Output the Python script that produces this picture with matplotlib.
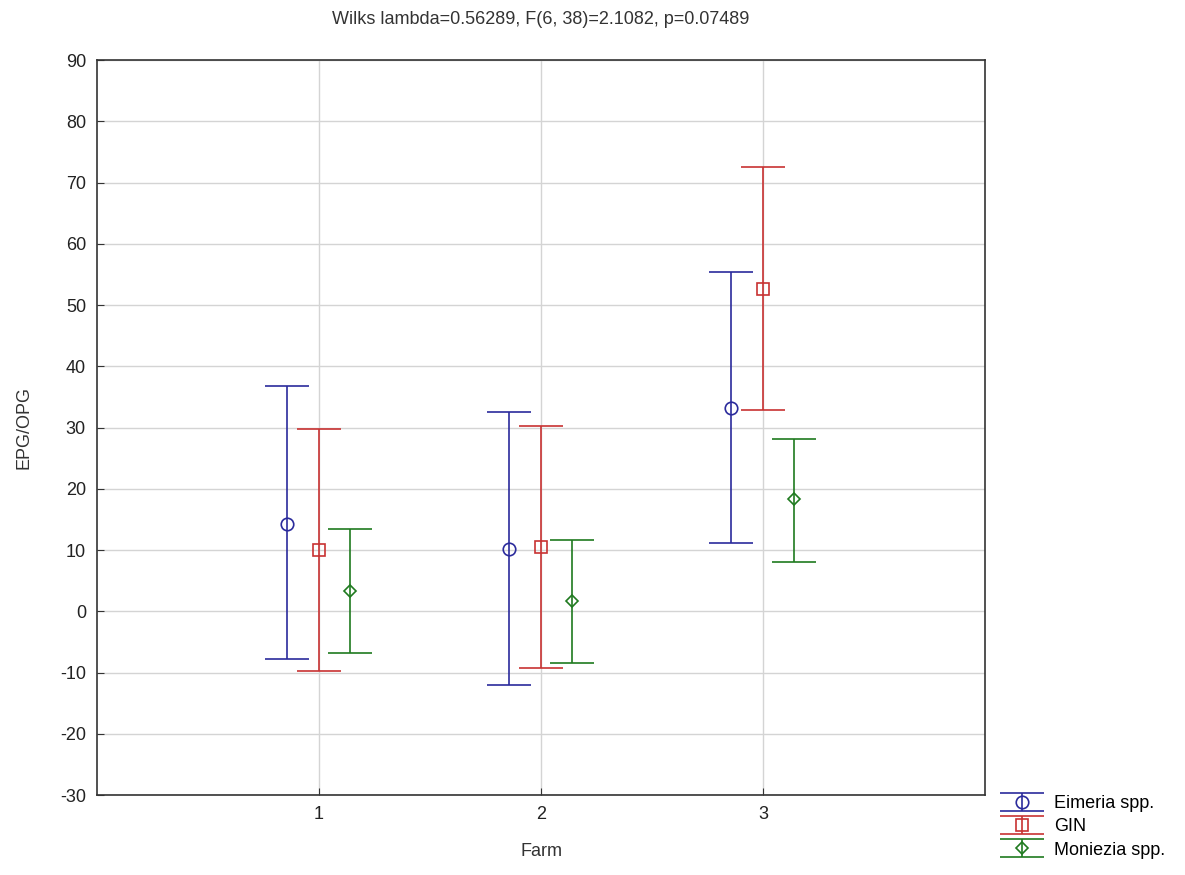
import numpy as np
import matplotlib.pyplot as plt

plt.rcParams['font.family'] = ['Liberation Sans', 'DejaVu Sans']
plt.rcParams['axes.unicode_minus'] = False

farms = [1, 2, 3]
series = ['Eimeria spp.', 'GIN', 'Moniezia spp.']
means = {
    'Eimeria spp.': [14.2, 10.2, 33.2],
    'GIN': [10.0, 10.5, 52.6],
    'Moniezia spp.': [3.3, 1.6, 18.3],
}
upper = {
    'Eimeria spp.': [36.8, 32.5, 55.4],
    'GIN': [29.8, 30.2, 72.6],
    'Moniezia spp.': [13.4, 11.6, 28.2],
}
lower = {
    'Eimeria spp.': [-7.8, -12.1, 11.1],
    'GIN': [-9.8, -9.2, 32.8],
    'Moniezia spp.': [-6.8, -8.5, 8.1],
}

colors = {'Eimeria spp.': '#2b2b9c', 'GIN': '#c83232', 'Moniezia spp.': '#1f7a1f'}
markers = {'Eimeria spp.': 'o', 'GIN': 's', 'Moniezia spp.': 'D'}
msizes = {'Eimeria spp.': 9, 'GIN': 9, 'Moniezia spp.': 6.5}
offsets = {'Eimeria spp.': -0.145, 'GIN': 0.0, 'Moniezia spp.': 0.14}

fig = plt.figure(figsize=(11.85, 8.75), dpi=100)
ax = fig.add_axes([0.0819, 0.0914, 0.7494, 0.84])

handles = []
for name in series:
    x = np.array(farms) + offsets[name]
    m = np.array(means[name])
    err = [m - np.array(lower[name]), np.array(upper[name]) - m]
    h = ax.errorbar(x, m, yerr=err, fmt=markers[name], color=colors[name],
                    mfc='none', mec=colors[name], ms=msizes[name], mew=1.2,
                    elinewidth=1.2, capsize=16, capthick=1.2, label=name, zorder=3)
    handles.append(h)

ax.set_xlim(0, 4)
ax.set_ylim(-30, 90)
ax.set_xticks(farms)
ax.set_yticks(np.arange(-30, 91, 10))
ax.grid(True, color='#d4d4d4', linewidth=1, zorder=0)
ax.set_axisbelow(True)
ax.tick_params(direction='in', length=5, labelsize=13, colors='#333333', labelcolor='#222222', pad=8)
for s in ax.spines.values():
    s.set_color('#333333')
    s.set_linewidth(1.2)

ax.set_xlabel('Farm', fontsize=13, color='#333333', labelpad=14)
ax.set_ylabel('EPG/OPG', fontsize=13, color='#333333', labelpad=20)
ax.set_title('Wilks lambda=0.56289, F(6, 38)=2.1082, p=0.07489', fontsize=13,
             color='#333333', pad=26)

fig.legend(handles=handles, labels=series, loc='lower left',
           bbox_to_anchor=(0.83, 0.0), frameon=False, fontsize=13,
           handlelength=2.5, labelspacing=0.35, handletextpad=0.5)

fig.savefig('out.png', dpi=100)
